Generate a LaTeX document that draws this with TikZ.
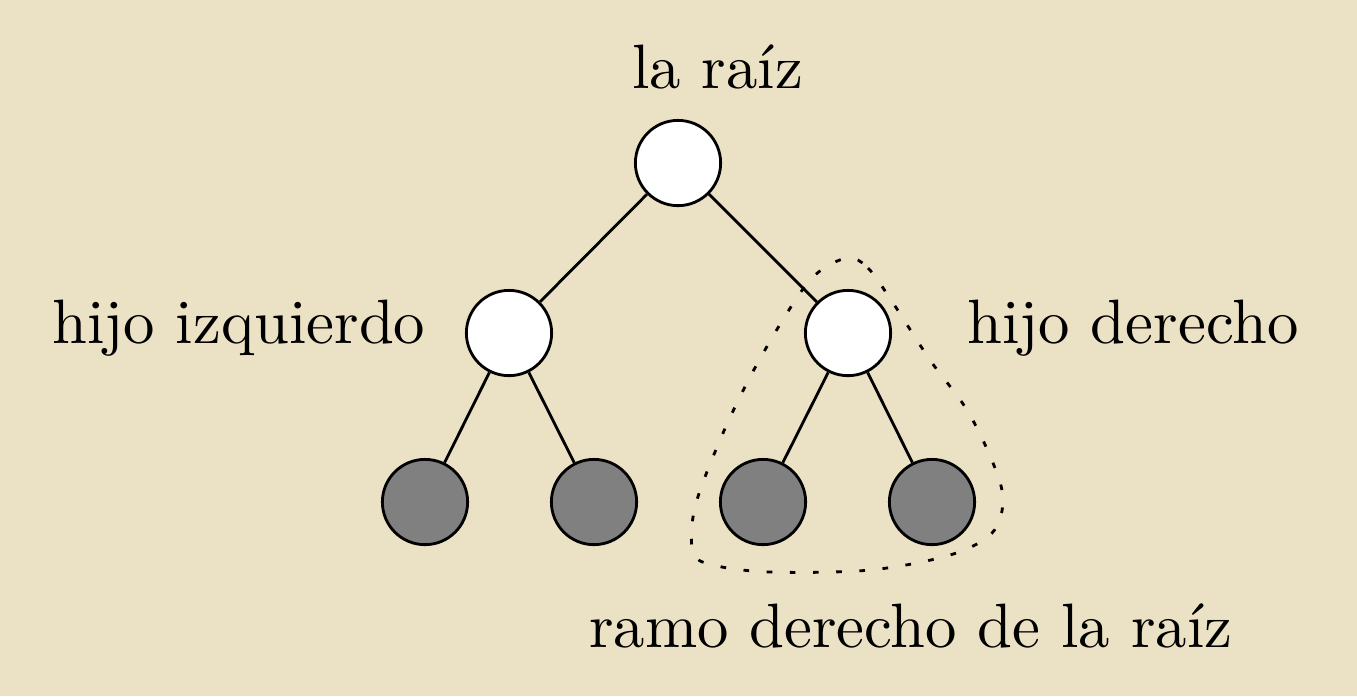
\documentclass[tikz,border=0pt]{standalone}
\definecolor{bgbeige}{RGB}{235,225,196}
\definecolor{leafgray}{RGB}{128,128,128}
\tikzset{
  treenode/.style={circle,draw=black,line width=0.45pt,minimum size=13.6pt,inner sep=0pt},
  inner/.style={treenode,fill=white},
  leaf/.style={treenode,fill=leafgray},
  edge/.style={line width=0.45pt},
  lbl/.style={inner sep=0pt,anchor=base west},
  branch/.style={line width=0.45pt,dash pattern=on 0.9pt off 2.8pt}
}
\begin{document}
\begin{tikzpicture}[x=0.15949pt,y=-0.15949pt]
\fill[bgbeige] (0,0) rectangle (1357,696);
\useasboundingbox (0,0) rectangle (1357,696);
\node[inner] (root) at (678,163) {};
\node[inner] (l) at (509,333) {};
\node[inner] (r) at (848,333) {};
\node[leaf] (ll) at (425,502) {};
\node[leaf] (lr) at (594,502) {};
\node[leaf] (rl) at (763,502) {};
\node[leaf] (rr) at (932,502) {};
\draw[edge] (root) -- (l);
\draw[edge] (root) -- (r);
\draw[edge] (l) -- (ll);
\draw[edge] (l) -- (lr);
\draw[edge] (r) -- (rl);
\draw[edge] (r) -- (rr);
\draw[branch] plot[smooth cycle,tension=0.55] coordinates {
  (847,258) (868,268) (893,303) (930,360) (967,410) (993,463) (1003,500)
  (992,533) (950,555) (870,570) (770,572) (713,565) (693,552) (695,507)
  (720,440) (750,377) (787,313) (815,275)};
\node[lbl] (troot) at (631,88) {la raíz};
\node[lbl] (tl) at (51,343) {hijo izquierdo};
\node[lbl] (tr) at (966,343) {hijo derecho};
\node[lbl] (tb) at (588,647) {ramo derecho de la raíz};
\end{tikzpicture}
\end{document}
